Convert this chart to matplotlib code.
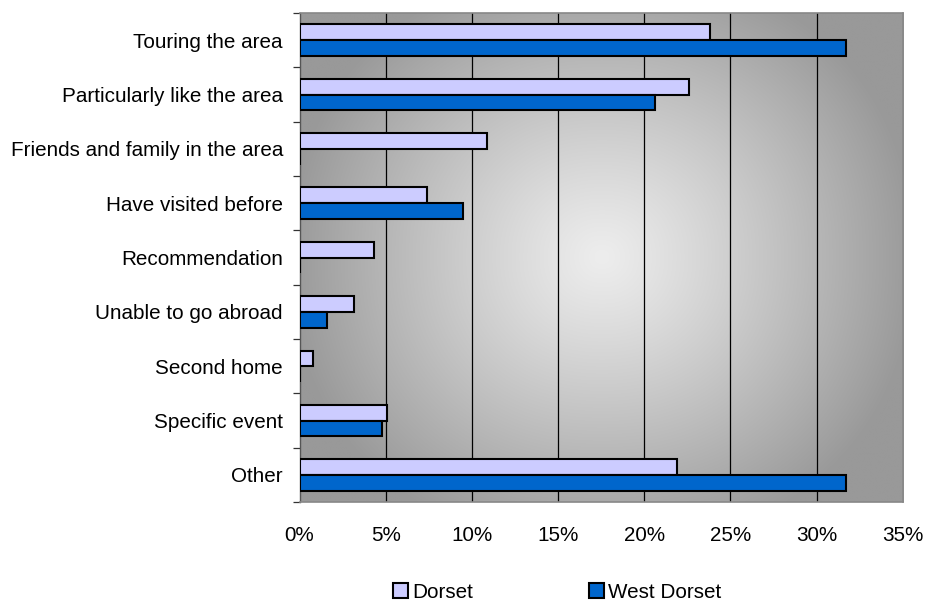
import numpy as np
import matplotlib
matplotlib.use("Agg")
import matplotlib.pyplot as plt
from matplotlib.patches import Patch

categories = [
    "Touring the area",
    "Particularly like the area",
    "Friends and family in the area",
    "Have visited before",
    "Recommendation",
    "Unable to go abroad",
    "Second home",
    "Specific event",
    "Other",
]
dorset = [23.8, 22.6, 10.9, 7.4, 4.3, 3.15, 0.8, 5.1, 21.9]
west_dorset = [31.7, 20.6, 0.0, 9.5, 0.0, 1.6, 0.0, 4.8, 31.7]
x_ticks = [0, 5, 10, 15, 20, 25, 30, 35]
series_names = ["Dorset", "West Dorset"]
colors = ["#ccccff", "#0066cc"]

plt.rcParams["font.family"] = ["Liberation Sans", "DejaVu Sans"]
FS = 14.9

fig = plt.figure(figsize=(9.26, 6.05), dpi=100)
ax = fig.add_axes([0.3235, 0.170, 0.6515, 0.8085])

# grey "from centre" gradient fill of the plot area
ny, nx = 300, 400
yy, xx = np.mgrid[0:1:ny * 1j, 0:1:nx * 1j]
cx, cy = 0.50, 0.50
p = 2.2
d = (np.abs((xx - cx) / 0.52) ** p + np.abs((yy - cy) / 0.60) ** p) ** (1 / p)
d = np.clip(d, 0, 1)
shade = 0.93 - (0.93 - 0.60) * d ** 1.15
img = np.dstack([shade, shade, shade])
ax.imshow(img, extent=[0, 1, 0, 1], transform=ax.transAxes, aspect="auto",
          zorder=0, origin="lower", interpolation="bicubic")

n = len(categories)
pos = np.arange(n)
h = 0.29
ax.barh(pos - h / 2, dorset, height=h, color=colors[0], edgecolor="black",
        linewidth=1.5, zorder=3)
ax.barh(pos + h / 2, west_dorset, height=h, color=colors[1], edgecolor="black",
        linewidth=1.5, zorder=3)

ax.set_xlim(0, 35)
ax.set_ylim(n - 0.5, -0.5)
ax.set_xticks(x_ticks)
ax.set_xticklabels([f"{v}%" for v in x_ticks], fontsize=FS)
ax.tick_params(axis="x", length=0, pad=17)
for v in x_ticks[1:-1]:
    ax.axvline(v, color="black", linewidth=0.9, zorder=2)

ax.set_yticks(pos)
ax.set_yticklabels(categories, fontsize=FS)
ax.set_yticks(np.arange(n + 1) - 0.5, minor=True)
ax.tick_params(axis="y", which="major", length=0, pad=12)
ax.tick_params(axis="y", which="minor", length=5, width=0.9, color="#333333",
               direction="out")

ax.spines["left"].set_color("#555555")
ax.spines["left"].set_linewidth(1.0)
for side in ["bottom", "top", "right"]:
    ax.spines[side].set_color("#888888")
    ax.spines[side].set_linewidth(1.2)

handles = [Patch(facecolor=c, edgecolor="black", linewidth=1.5) for c in colors]
fig.legend(handles, series_names, loc="center", bbox_to_anchor=(0.602, 0.021),
           ncol=2, frameon=False, fontsize=FS, handlelength=0.72,
           handleheight=0.72, handletextpad=0.2, columnspacing=5.6,
           borderpad=0.1)

fig.savefig("out.png", dpi=100)
